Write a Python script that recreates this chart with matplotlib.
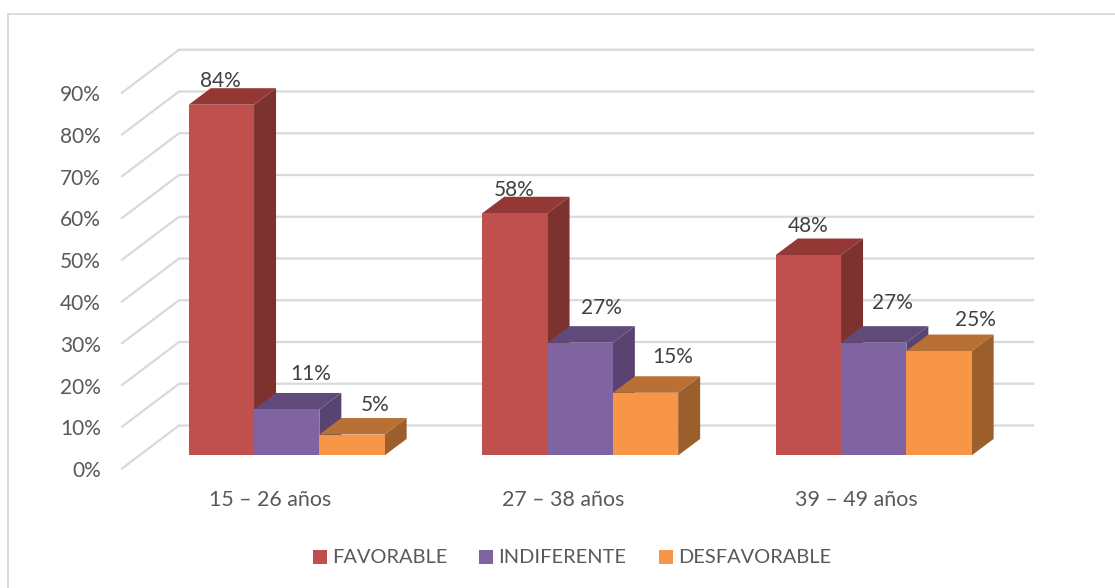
import matplotlib
matplotlib.use("Agg")
from matplotlib import pyplot as plt
from matplotlib.patches import Polygon, Rectangle

# datos
grupos = ["15 – 26 años", "27 – 38 años", "39 – 49 años"]
series = ["FAVORABLE", "INDIFERENTE", "DESFAVORABLE"]
favorable = [84, 58, 48]
indiferente = [11, 27, 27]
desfavorable = [5, 15, 25]
ticks = [0, 10, 20, 30, 40, 50, 60, 70, 80, 90]

# desplazamiento de cada etiqueta (pixeles) desde el centro de la cara superior
desp_x = [[-1, -1, 0], [24, 21, 19], [23, 27, 36]]
desp_y = [[23.5, 23.5, 29.5], [35.5, 34.5, 39.5], [29.5, 35.5, 31.5]]

col_frente = ["#C0504D", "#8064A2", "#F79646"]
col_arriba = ["#943836", "#604A7B", "#B97034"]
col_lado = ["#7E3230", "#584372", "#9C5F2B"]
col_texto = "#595959"
col_etiqueta = "#404040"
col_grid = "#D9D9D9"

W, H = 1115, 588
PX_X = 293.5   # pixeles por grupo
PX_Y = 4.175   # pixeles por punto porcentual
X0 = 286.7     # centro del primer grupo
Y0 = 455.4     # base de las barras

ancho = 65.3 / PX_X
prof_x, prof_y = 22 / PX_X, 16.5 / PX_Y
pared_x, pared_y = 57 / PX_X, 43 / PX_Y
suelo_x, suelo_y = (122 - X0) / PX_X, (Y0 - 468.5) / PX_Y
fin_x = (1033 - X0) / PX_X

plt.rcParams["font.family"] = ["Lato", "DejaVu Sans"]
fig = plt.figure(figsize=(W / 100, H / 100), dpi=100)
ax = fig.add_axes([0, 0, 1, 1])
ax.set_xlim(-X0 / PX_X, (W - X0) / PX_X)
ax.set_ylim((Y0 - H) / PX_Y, Y0 / PX_Y)
ax.axis("off")

# marco del grafico, sale por la derecha y por abajo
fig.add_artist(Rectangle((7.5 / W, -0.02), 1.1, (H - 14) / H + 0.02, transform=fig.transFigure,
                         fill=False, ec=col_grid, lw=1.3))

# rejilla: pared del fondo y lineas oblicuas
for t in ticks:
    y = suelo_y + t
    ax.plot([suelo_x, suelo_x + pared_x, fin_x], [y, y + pared_y, y + pared_y], color=col_grid, lw=1.6, zorder=1,
            solid_joinstyle="miter")
    ax.text(suelo_x - 21 / PX_X, y - 2.5 / PX_Y, f"{t}%", ha="right", va="center", fontsize=15, color=col_texto)

valores = [favorable, indiferente, desfavorable]
for g in range(len(grupos)):
    for s in range(len(series)):
        v = valores[s][g]
        x = g + (s - 1.5) * ancho
        z = 2 + s
        ax.bar(x, v, ancho, align="edge", color=col_frente[s], zorder=z + 0.2)
        ax.add_patch(Polygon([(x, v), (x + ancho, v), (x + ancho + prof_x, v + prof_y), (x + prof_x, v + prof_y)],
                             color=col_arriba[s], lw=0, zorder=z))
        ax.add_patch(Polygon([(x + ancho, 0), (x + ancho + prof_x, prof_y), (x + ancho + prof_x, v + prof_y), (x + ancho, v)],
                             color=col_lado[s], lw=0, zorder=z))
        ax.text(x + ancho / 2 + desp_x[s][g] / PX_X, v + desp_y[s][g] / PX_Y, f"{v}%", ha="center", va="center",
                fontsize=15, color=col_etiqueta, zorder=10)
    ax.text(g - 17 / PX_X, (Y0 - 500) / PX_Y, grupos[g], ha="center", va="center", fontsize=15.4, color=col_texto)

# leyenda
pos_cuadro = [313, 479, 659]
for s in range(len(series)):
    px = pos_cuadro[s]
    ax.add_patch(Rectangle(((px - X0) / PX_X, (Y0 - 564) / PX_Y), 14 / PX_X, 14 / PX_Y, color=col_frente[s], lw=0))
    ax.text((px + 19 - X0) / PX_X, (Y0 - 557.5) / PX_Y, series[s], ha="left", va="center", fontsize=14.4, color=col_texto)

fig.savefig("out.png", dpi=100)
